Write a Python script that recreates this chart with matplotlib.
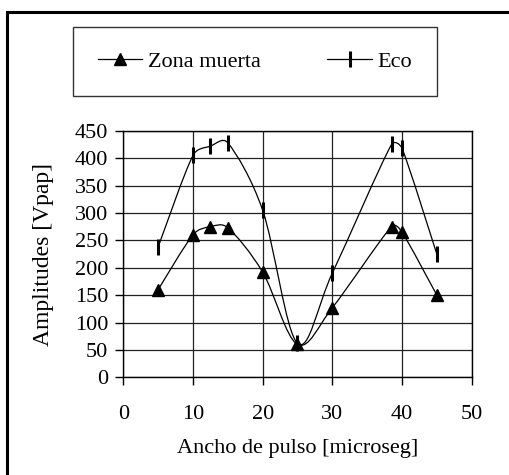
import numpy as np
import matplotlib
matplotlib.use("Agg")
import matplotlib.pyplot as plt
from matplotlib.path import Path
from matplotlib.patches import PathPatch, Rectangle
from matplotlib.lines import Line2D

plt.rcParams['font.family'] = ['Liberation Serif', 'DejaVu Serif']

# data
zona_x = [5, 10, 12.5, 15, 20, 25, 30, 38.5, 40, 45]
zona_y = [160, 260, 275, 273, 192, 60, 127, 275, 265, 150]
eco_x = [5, 10, 12.5, 15, 20, 25, 30, 38.5, 40, 45]
eco_y = [238, 405, 422, 428, 305, 62, 190, 425, 418, 225]

x_ticks = [0, 10, 20, 30, 40, 50]
y_ticks = [0, 50, 100, 150, 200, 250, 300, 350, 400, 450]


def smooth_path(xs, ys, sx, sy):
    # smoothed line like the spreadsheet one: catmull-rom bezier through every
    # point, handles clamped on short segments so it does not overshoot
    pts = np.column_stack([xs, ys]).astype(float)
    scr = pts * [sx, sy]
    n = len(pts)
    verts = [pts[0]]
    codes = [Path.MOVETO]
    for i in range(n - 1):
        p0 = scr[max(i - 1, 0)]
        p1 = scr[i]
        p2 = scr[i + 1]
        p3 = scr[min(i + 2, n - 1)]
        seg = np.hypot(*(p2 - p1))
        h1 = (p2 - p0) / 6.0
        h2 = (p3 - p1) / 6.0
        lim = seg * 0.45
        if np.hypot(*h1) > lim:
            h1 = h1 / np.hypot(*h1) * lim
        if np.hypot(*h2) > lim:
            h2 = h2 / np.hypot(*h2) * lim
        c1 = (p1 + h1) / [sx, sy]
        c2 = (p2 - h2) / [sx, sy]
        verts += [c1, c2, pts[i + 1]]
        codes += [Path.CURVE4] * 3
    return Path(verts, codes)


def main():
    fig = plt.figure(figsize=(5.1, 4.75), dpi=100)
    ax = fig.add_axes([0.2418, 0.2057, 0.683, 0.519])

    # pixel per data unit, to smooth in screen space
    sx = 510 * 0.683 / 50
    sy = 475 * 0.519 / 450
    for xs, ys in [(zona_x, zona_y), (eco_x, eco_y)]:
        ax.add_patch(PathPatch(smooth_path(xs, ys, sx, sy), fill=False,
                               edgecolor='black', lw=0.9, zorder=3))

    ax.plot(zona_x, zona_y, ls='none', marker='^', ms=9, color='black', zorder=4)
    ax.plot(eco_x, eco_y, ls='none', marker='|', ms=12, mew=2.2, color='black', zorder=4)

    ax.set_xlim(0, 50)
    ax.set_ylim(0, 450)
    ax.set_xticks(x_ticks)
    ax.set_yticks(y_ticks)
    ax.grid(True, color='#222222', lw=0.9)
    ax.set_axisbelow(True)
    ax.tick_params(direction='out', length=6, width=1, labelsize=16, pad=5)
    ax.tick_params(axis='x', pad=14)
    for s in ax.spines.values():
        s.set_linewidth(1)
    ax.set_xlabel("Ancho de pulso [microseg]", fontsize=16, labelpad=11)
    ax.set_ylabel("Amplitudes [Vpap]", fontsize=17, labelpad=15)

    handles = [
        Line2D([], [], color='black', lw=0.9, marker='^', ms=9),
        Line2D([], [], color='black', lw=0.9, marker='|', ms=12, mew=2.2),
    ]
    leg = fig.legend(handles, ["Zona muerta", "Eco"], ncol=2, fontsize=16,
                     loc='center', bbox_to_anchor=(0.5, 0.871),
                     frameon=True, fancybox=False, edgecolor='black',
                     handlelength=2.0, handletextpad=0.25, columnspacing=3.0,
                     borderpad=1.1, borderaxespad=0)
    leg.get_frame().set_linewidth(1)

    fig.patches.append(Rectangle((7 / 510, -0.05), 1.1, 1 - 12 / 475 + 0.05,
                                 transform=fig.transFigure, fill=False,
                                 edgecolor='black', lw=2.2))

    fig.savefig("out.png", dpi=100)


if __name__ == "__main__":
    main()
